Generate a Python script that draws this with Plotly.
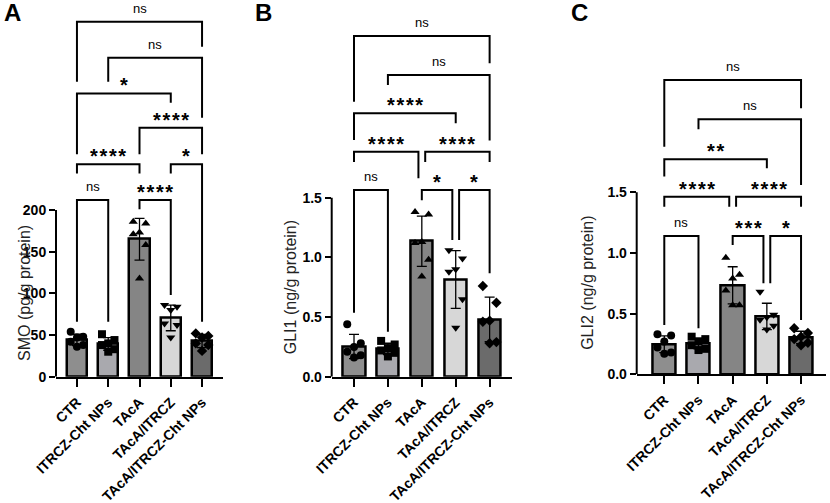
import numpy as np
import plotly.graph_objects as go

# groups on the x axis
groups = ["CTR", "ITRCZ-Cht NPs", "TAcA", "TAcA/ITRCZ", "TAcA/ITRCZ-Cht NPs"]

# individual points per group
smo = [
    [54, 48, 47, 42, 38, 36],
    [51, 44, 40, 38, 33, 30],
    [186, 184, 173, 171, 158, 118],
    [86, 84, 80, 64, 62, 47],
    [52, 49, 47, 40, 38, 31],
]
gli1 = [
    [0.44, 0.28, 0.25, 0.21, 0.18, 0.16],
    [0.30, 0.27, 0.24, 0.22, 0.20, 0.17],
    [1.38, 1.36, 1.13, 1.12, 0.98, 0.84],
    [1.06, 0.99, 0.90, 0.88, 0.65, 0.41],
    [0.76, 0.62, 0.47, 0.46, 0.29, 0.28],
]
gli2 = [
    [0.33, 0.32, 0.27, 0.22, 0.18, 0.17],
    [0.31, 0.29, 0.27, 0.24, 0.21, 0.20],
    [0.96, 0.82, 0.79, 0.69, 0.57, 0.57],
    [0.68, 0.49, 0.47, 0.45, 0.40, 0.37],
    [0.38, 0.34, 0.31, 0.29, 0.26, 0.24],
]

# comparisons: (group a, group b, bracket height, left leg end, right leg end, label)
smo_brackets = [
    (0, 1, 212, 66, 66, "ns"),
    (2, 3, 212, 201, 98, "****"),
    (0, 2, 255, 244, 244, "****"),
    (3, 4, 255, 244, 66, "*"),
    (2, 4, 299, 267, 267, "****"),
    (0, 3, 340, 267, 329, "*"),
    (1, 4, 383, 354, 311, "ns"),
    (0, 4, 426, 354, 396, "ns"),
]
gli1_brackets = [
    (0, 1, 1.565, 0.536, 0.377, "ns"),
    (2, 3, 1.565, 1.48, 1.146, "*"),
    (3, 4, 1.565, 1.146, 0.867, "*"),
    (0, 2, 1.886, 1.80, 1.663, "****"),
    (2, 4, 1.886, 1.80, 1.80, "****"),
    (0, 3, 2.208, 1.984, 2.124, "****"),
    (1, 4, 2.529, 2.445, 1.98, "ns"),
    (0, 4, 2.856, 2.305, 2.627, "ns"),
]
gli2_brackets = [
    (0, 1, 1.14, 0.406, 0.38, "ns"),
    (2, 3, 1.14, 1.066, 0.75, "***"),
    (3, 4, 1.14, 0.75, 0.448, "*"),
    (0, 2, 1.464, 1.382, 1.382, "****"),
    (2, 4, 1.464, 1.382, 1.382, "****"),
    (0, 3, 1.772, 1.63, 1.698, "**"),
    (1, 4, 2.102, 2.02, 1.56, "ns"),
    (0, 4, 2.426, 1.876, 2.193, "ns"),
]

y_titles = ["SMO (pg/g protein)", "GLI1 (ng/g protein)", "GLI2 (ng/g protein)"]
y_ticks = [[0, 50, 100, 150, 200], [0.0, 0.5, 1.0, 1.5], [0.0, 0.5, 1.0, 1.5]]
y_ticktext = [["0", "50", "100", "150", "200"], ["0.0", "0.5", "1.0", "1.5"], ["0.0", "0.5", "1.0", "1.5"]]
panel_letters = ["A", "B", "C"]

# styling
bar_colors = ["#8e8e8e", "#a9a9ae", "#858585", "#d7d7d7", "#6b6b6b"]
symbols = ["circle", "square", "triangle-up", "triangle-down", "diamond"]
jitter = [-0.2, 0.2, 0.0, -0.2, 0.2, 0.0]
FONT = "Liberation Sans, Arial, sans-serif"
W, H = 830, 503


def px_x(v):
    return v / W


def px_y(v):
    return 1 - v / H


panels = [
    dict(vals=smo, br=smo_brackets, xpx=(56, 223), xr=(-0.67, 4.67), y0px=376.7, ppu=0.833, ytop=450, bw=0.64,
         letter=2, title_x=14),
    dict(vals=gli1, br=gli1_brackets, xpx=(331.7, 512), xr=(-0.658, 4.66), y0px=376.7, ppu=119.3, ytop=3.1, bw=0.66,
         letter=253, title_x=290),
    dict(vals=gli2, br=gli2_brackets, xpx=(636.7, 826), xr=(-0.807, 4.73), y0px=374.3, ppu=121.3, ytop=3.0, bw=0.68,
         letter=569, title_x=598),
]

fig = go.Figure()
annotations = []
shapes = []

for k, p in enumerate(panels):
    xa = "x" if k == 0 else f"x{k + 1}"
    ya = "y" if k == 0 else f"y{k + 1}"
    means = [np.mean(v) for v in p["vals"]]
    sds = [np.std(v, ddof=1) for v in p["vals"]]

    fig.add_trace(go.Bar(
        x=list(range(5)), y=means, width=p["bw"], xaxis=xa, yaxis=ya,
        marker=dict(color=bar_colors, line=dict(color="black", width=2.5)),
        error_y=dict(type="data", array=sds, color="black", thickness=1.3, width=5),
        showlegend=False, hoverinfo="skip",
    ))
    for g in range(5):
        n = len(p["vals"][g])
        fig.add_trace(go.Scatter(
            x=[g + jitter[i % 6] for i in range(n)], y=p["vals"][g], mode="markers",
            xaxis=xa, yaxis=ya, showlegend=False, cliponaxis=False, hoverinfo="skip",
            marker=dict(symbol=symbols[g], color="black", size=8),
        ))

    # brackets
    for (a, b, h, la, lb, lab) in p["br"]:
        xa0, xb0 = float(a), float(b)
        for (c, d, h2, _, _, _) in p["br"]:
            if h2 == h and (c, d) != (a, b):
                if d == a:
                    xa0 += 0.1
                if c == b:
                    xb0 -= 0.1
        fig.add_trace(go.Scatter(
            x=[xa0, xa0, xb0, xb0], y=[la, h, h, lb], mode="lines",
            line=dict(color="black", width=2), xaxis=xa, yaxis=ya,
            showlegend=False, cliponaxis=False, hoverinfo="skip",
        ))
        is_ns = lab == "ns"
        stars = "\u200a".join(lab)
        annotations.append(dict(
            x=(xa0 + xb0) / 2, y=h, xref=xa, yref=ya, text=lab if is_ns else "<b>" + stars + "</b>",
            showarrow=False, yanchor="bottom", yshift=4 if is_ns else -5,
            font=dict(family=FONT, size=13 if is_ns else 20, color="black"),
        ))

    # prism-style y axis line from 0 to top tick
    shapes.append(dict(type="line", xref=f"{xa} domain", yref=ya, x0=0, x1=0, y0=0,
                       y1=y_ticks[k][-1], line=dict(color="black", width=2)))

    dom_x = [px_x(p["xpx"][0]), px_x(p["xpx"][1])]
    top_px = p["y0px"] - p["ytop"] * p["ppu"]
    dom_y = [px_y(p["y0px"]), min(1.0, px_y(top_px))]
    key = "" if k == 0 else str(k + 1)
    fig.update_layout(**{
        f"xaxis{key}": dict(
            domain=dom_x, range=list(p["xr"]), tickvals=list(range(5)), ticktext=[f"<b>{g}</b>" for g in groups],
            tickangle=-45, ticks="outside", ticklen=8, tickwidth=2, tickcolor="black", ticklabelstandoff=2,
            showline=True, linecolor="black", linewidth=2, showgrid=False, zeroline=False,
            tickfont=dict(family=FONT, size=14, color="black"), anchor=ya, fixedrange=True,
            automargin=False,
        ),
        f"yaxis{key}": dict(
            domain=dom_y, range=[0, p["ytop"]], tickvals=y_ticks[k],
            ticktext=[f"<b>{t}</b>" for t in y_ticktext[k]],
            ticks="outside", ticklen=6, tickwidth=2, tickcolor="black",
            showline=False, showgrid=False, zeroline=False,
            tickfont=dict(family=FONT, size=14, color="black"), anchor=xa, fixedrange=True,
            automargin=False,
        ),
    })

    # y title centered on the drawn axis line
    mid_px = p["y0px"] - y_ticks[k][-1] * p["ppu"] / 2
    annotations.append(dict(
        x=px_x(p["title_x"]), y=px_y(mid_px), xref="paper", yref="paper", text=y_titles[k],
        textangle=-90, showarrow=False, font=dict(family=FONT, size=16, color="#222"),
    ))
    annotations.append(dict(
        x=px_x(p["letter"]), y=px_y(13), xref="paper", yref="paper",
        text="<b>" + panel_letters[k] + "</b>", showarrow=False, xanchor="left", yanchor="middle",
        font=dict(family=FONT, size=24, color="black"),
    ))

fig.update_layout(
    width=W, height=H, margin=dict(l=0, r=0, t=0, b=0),
    paper_bgcolor="white", plot_bgcolor="white",
    annotations=annotations, shapes=shapes, bargap=0,
)

# drop the default page margin so the figure fills the window
fig.write_html("out.html", config={"displayModeBar": False},
               post_script="document.body.style.margin = '0';")
